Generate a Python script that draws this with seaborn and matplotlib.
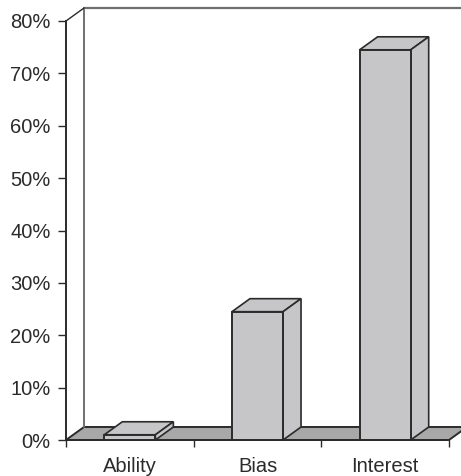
import matplotlib
matplotlib.use("Agg")
import matplotlib.pyplot as plt
import pandas as pd
import seaborn as sns
from matplotlib.patches import Polygon

categories = ["Ability", "Bias", "Interest"]
shares = [1, 24.5, 74.5]

FIG_W, FIG_H = 461, 476
BAR_COLOR = "#c6c6c8"
FLOOR_COLOR = "#a8a8a8"
INK = "#2b2b2b"
WALL = "#6f6f6f"

sns.set_theme(style="white")
plt.rcParams["font.family"] = ["Liberation Sans", "DejaVu Sans"]

fig = plt.figure(figsize=(FIG_W / 100, FIG_H / 100), dpi=100)
ax = fig.add_axes([66 / FIG_W, 1 - 440 / FIG_H, 383 / FIG_W, 419 / FIG_H])

frame = pd.DataFrame({"category": categories, "share": shares})
sns.barplot(data=frame, x="category", y="share", color=BAR_COLOR, saturation=1,
            width=0.4, edgecolor=INK, linewidth=1.4, zorder=4, ax=ax)

ax.set_xlim(-0.5, 2.5)
ax.set_ylim(0, 80)

# Offset of the receding edges in data units
dx = 18 / 383 * 3
dy = 13 / 419 * 80
x0, x1 = ax.get_xlim()

# Floor and back wall
ax.add_patch(Polygon([(x0, 0), (x0 + dx, dy), (x1 + dx, dy), (x1, 0)], closed=True,
                     facecolor=FLOOR_COLOR, edgecolor=INK, linewidth=1.4,
                     clip_on=False, zorder=2))
ax.plot([x0 + dx, x0 + dx], [dy, 80 + dy], color=WALL, lw=1.4, clip_on=False, zorder=2)
ax.plot([x0 + dx, x1 + dx], [80 + dy, 80 + dy], color=WALL, lw=1.6, clip_on=False, zorder=2)
ax.plot([x0, x0 + dx], [80, 80 + dy], color=INK, lw=1.0, clip_on=False, zorder=2)

# Top and side faces of each bar
for bar, value in zip(ax.patches, shares):
    left = bar.get_x()
    right = left + bar.get_width()
    ax.add_patch(Polygon([(left, value), (left + dx, value + dy),
                          (right + dx, value + dy), (right, value)], closed=True,
                         facecolor=BAR_COLOR, edgecolor=INK, linewidth=1.2,
                         clip_on=False, zorder=3))
    ax.add_patch(Polygon([(right, 0), (right + dx, dy), (right + dx, value + dy),
                          (right, value)], closed=True,
                         facecolor=BAR_COLOR, edgecolor=INK, linewidth=1.2,
                         clip_on=False, zorder=3))

for side in ("top", "right"):
    ax.spines[side].set_visible(False)
for side in ("left", "bottom"):
    ax.spines[side].set_color(INK)
    ax.spines[side].set_linewidth(1.4)
    ax.spines[side].set_zorder(5)

ax.set_xlabel("")
ax.set_ylabel("")

# Ticks sit between categories; labels are centred under each bar
ax.set_xticks([-0.5, 0.5, 1.5, 2.5])
ax.set_xticklabels([])
ax.set_xticks([0, 1, 2], minor=True)
ax.set_xticklabels(categories, minor=True, fontsize=14.5, color=INK)
ax.tick_params(axis="x", which="major", bottom=True, length=5, width=1.0, color=INK)
ax.tick_params(axis="x", which="minor", bottom=False, length=0, pad=12)

ax.set_yticks(range(0, 81, 10))
ax.set_yticklabels([f"{v}%" for v in range(0, 81, 10)], fontsize=14.5, color=INK)
ax.tick_params(axis="y", left=True, length=6, width=1.0, color=INK, pad=5)

fig.savefig("out.png", dpi=100, facecolor="white")
